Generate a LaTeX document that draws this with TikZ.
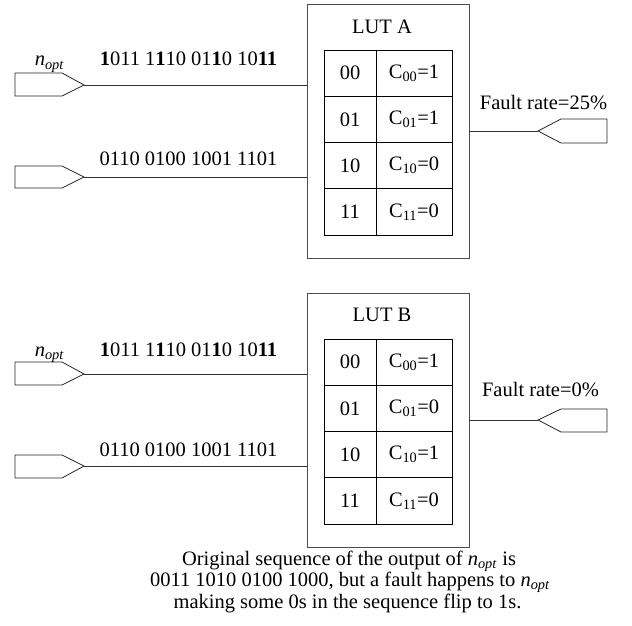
\documentclass[tikz,border=0pt]{standalone}
\usepackage{fontspec}
\setmainfont{Liberation Serif}
\newcommand{\nopt}{\textit{n}\textsubscript{\textit{opt}}}
\newcommand{\Csub}[2]{C\textsubscript{#1}=#2}
\begin{document}
\begin{tikzpicture}[x=1pt,y=-1pt,line width=0.8pt,
  every node/.style={font=\fontsize{20.5}{22.5}\selectfont,inner sep=0pt,outer sep=0pt},
  lut/.style={draw=black!70,minimum width=162pt,minimum height=254pt},
  keycell/.style={draw,minimum width=52pt,minimum height=46.25pt},
  valcell/.style={draw,minimum width=76pt,minimum height=46.25pt},
  wire/.style={draw=black!80},
  port/.style={draw=black!85},
  lbl/.style={anchor=base}]
\useasboundingbox (0,0) rectangle (632,626);

% ---------- LUT A ----------
\node[lut] (lutA) at (388,131) {};
\node[lbl] (titleA) at (382,33.3) {LUT A};
\foreach \k/\v [count=\i from 0] in {00/\Csub{00}{1},01/\Csub{01}{1},10/\Csub{10}{0},11/\Csub{11}{0}}{
  \node[keycell] (kA\i) at (350,73.1+46.25*\i) {\k};
  \node[valcell] (vA\i) at (414,73.1+46.25*\i) {\v};
}
% inputs A
\coordinate (inA1) at (84,85);
\coordinate (inA2) at (84,177);
\draw[port] (inA1) -- (62,73) -- (15,73) -- (15,96) -- (62,96) -- cycle;
\draw[port] (inA2) -- (62,166) -- (15,166) -- (15,188) -- (62,188) -- cycle;
\draw[wire] (inA1) -- (inA1 -| lutA.west);
\draw[wire] (inA2) -- (inA2 -| lutA.west);
\node[lbl] (noptA) at (49.5,66) {\nopt};
\node[lbl] (bitsA1) at (188.5,66) {\textbf{1}011 1\textbf{1}10 01\textbf{1}0 10\textbf{11}};
\node[lbl] (bitsA2) at (188.5,165) {0110 0100 1001 1101};
% output A
\coordinate (outA) at (538,131);
\draw[wire] (lutA.east |- outA) -- (outA);
\draw[port] (outA) -- (561,119) -- (607,119) -- (607,143) -- (561,143) -- cycle;
\node[lbl] (frA) at (543.5,109.3) {Fault rate=25\%};

% ---------- LUT B ----------
\node[lut] (lutB) at (388,420) {};
\node[lbl] (titleB) at (382,321.7) {LUT B};
\foreach \k/\v [count=\i from 0] in {00/\Csub{00}{1},01/\Csub{01}{0},10/\Csub{10}{1},11/\Csub{11}{0}}{
  \node[keycell] (kB\i) at (350,362.1+46.25*\i) {\k};
  \node[valcell] (vB\i) at (414,362.1+46.25*\i) {\v};
}
% inputs B
\coordinate (inB1) at (84,374);
\coordinate (inB2) at (84,466);
\draw[port] (inB1) -- (62,362) -- (15,362) -- (15,385) -- (62,385) -- cycle;
\draw[port] (inB2) -- (62,455) -- (15,455) -- (15,478) -- (62,478) -- cycle;
\draw[wire] (inB1) -- (inB1 -| lutB.west);
\draw[wire] (inB2) -- (inB2 -| lutB.west);
\node[lbl] (noptB) at (49.5,356.7) {\nopt};
\node[lbl] (bitsB1) at (188.5,356.7) {\textbf{1}011 1\textbf{1}10 01\textbf{1}0 10\textbf{11}};
\node[lbl] (bitsB2) at (188.5,456.7) {0110 0100 1001 1101};
% output B
\coordinate (outB) at (538,420);
\draw[wire] (lutB.east |- outB) -- (outB);
\draw[port] (outB) -- (561,409) -- (607,409) -- (607,432) -- (561,432) -- cycle;
\node[lbl] (frB) at (540.5,396) {Fault rate=0\%};

% ---------- caption ----------
\node[lbl] (cap1) at (349,565.7) {Original sequence of the output of \nopt{} is};
\node[lbl] (cap2) at (350,586.7) {0011 1010 0100 1000, but a fault happens to \nopt};
\node[lbl] (cap3) at (347.5,608) {making some 0s in the sequence flip to 1s.};
\end{tikzpicture}
\end{document}
